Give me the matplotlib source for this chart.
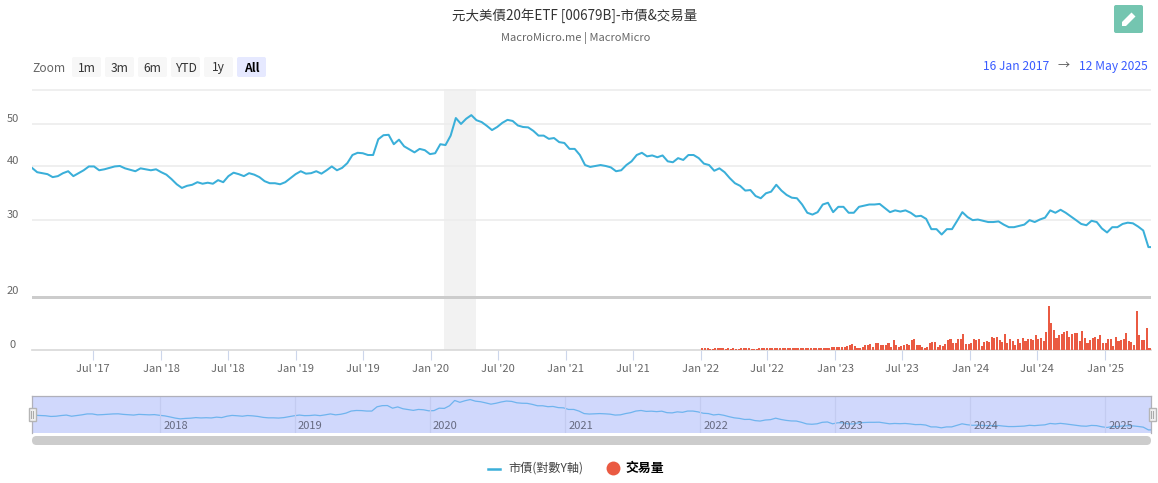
#! /usr/bin/env python
import numpy as np
import pandas as pd
import matplotlib
matplotlib.use('Agg')
import matplotlib.pyplot as plt
from matplotlib.patches import FancyBboxPatch, Rectangle, Polygon

plt.rcParams['font.family'] = ['Noto Sans CJK TC', 'DejaVu Sans']

W, H = 1158, 483

# 市價, one reading every two weeks from 16 Jan 2017
price = [
    39.6, 38.7, 38.5, 38.3, 37.7, 37.9, 38.5, 38.9, 37.9, 38.5, 39.1, 39.9, 39.9, 39.1, 39.3, 39.6, 39.9, 40.0,
    39.5, 39.2, 38.9, 39.5, 39.3, 39.1, 39.3, 38.7, 38.2, 37.3, 36.3, 35.6, 36.0, 36.2, 36.7, 36.4, 36.6, 36.4,
    37.1, 36.7, 37.9, 38.6, 38.3, 37.9, 38.5, 38.2, 37.7, 36.9, 36.5, 36.5, 36.3, 36.7, 37.5, 38.3, 38.9, 38.4,
    38.5, 38.9, 38.4, 39.1, 39.9, 39.1, 39.6, 40.6, 42.4, 42.9, 42.8, 42.4, 42.4, 46.1, 47.1, 47.2, 44.9, 46.0,
    44.4, 43.7, 43.0, 43.8, 43.5, 42.6, 42.8, 44.9, 44.7, 47.0, 51.6, 50.0, 51.4, 52.4, 51.0, 50.5, 49.5, 48.4,
    49.2, 50.3, 51.1, 50.8, 49.6, 49.2, 49.1, 48.2, 47.0, 47.0, 46.2, 46.4, 45.4, 45.2, 43.8, 43.8, 42.4, 40.2,
    39.8, 40.0, 40.2, 40.0, 39.7, 38.9, 39.1, 40.2, 41.0, 42.4, 42.9, 42.1, 42.3, 41.9, 42.3, 41.0, 40.8, 41.7,
    41.3, 42.4, 42.4, 41.7, 40.5, 40.2, 39.0, 39.5, 38.7, 37.5, 36.5, 36.0, 35.1, 35.2, 34.1, 33.7, 34.6, 34.9,
    36.2, 35.1, 34.3, 33.8, 33.7, 32.6, 31.2, 30.9, 31.3, 32.6, 32.9, 31.3, 32.2, 32.2, 31.2, 31.2, 32.2, 32.4,
    32.6, 32.6, 32.7, 32.0, 31.3, 31.6, 31.4, 31.6, 31.2, 30.6, 30.7, 30.2, 28.6, 28.6, 27.8, 28.6, 28.6, 29.9,
    31.3, 30.5, 30.0, 30.1, 29.9, 29.7, 29.7, 29.8, 29.3, 28.9, 28.9, 29.1, 29.3, 30.0, 29.7, 30.1, 30.4, 31.6,
    31.2, 31.7, 31.2, 30.6, 30.0, 29.4, 29.2, 29.9, 29.7, 28.7, 28.1, 28.9, 28.9, 29.4, 29.6, 29.5, 29.0, 28.4,
    26.0, 26.0,
]

# 交易量, weekly from Jan 2022 (scale not labelled, relative heights only)
volume = [
    3, 3, 3, 2, 2, 3, 4, 5, 3, 1, 3, 1, 3, 1, 1, 3, 3, 3, 3, 2, 1, 1, 3, 3, 3, 3,
    3, 3, 3, 3, 3, 3, 3, 3, 3, 3, 3, 3, 3, 3, 3, 3, 3, 3, 3, 4, 4, 5, 5, 5, 6, 6,
    7, 8, 7, 6, 10, 14, 16, 10, 5, 4, 8, 12, 13, 15, 6, 18, 20, 13, 13, 13, 18, 8, 27, 13, 6, 10,
    12, 15, 12, 28, 30, 13, 13, 7, 5, 8, 20, 22, 22, 8, 12, 10, 16, 28, 30, 20, 18, 32, 30, 46, 16, 16,
    18, 30, 28, 30, 10, 22, 25, 22, 38, 35, 38, 28, 22, 45, 20, 32, 25, 14, 30, 20, 35, 25, 30, 30, 28, 42,
    32, 35, 25, 52, 129, 80, 58, 35, 42, 45, 52, 55, 38, 45, 50, 48, 25, 55, 35, 18, 27, 35, 38, 30, 42, 20,
    20, 30, 30, 10, 37, 25, 27, 32, 50, 25, 22, 12, 115, 43, 28, 28, 65, 5,
]

price_dates = pd.date_range('2017-01-16', periods=len(price), freq='14D')
volume_dates = pd.date_range('2022-01-06', periods=len(volume), freq='7D')

shade_start, shade_end = pd.Timestamp('2020-02-05'), pd.Timestamp('2020-05-02')
x_start, x_end = pd.Timestamp('2017-01-16'), pd.Timestamp('2025-05-05')
nav_start = pd.Timestamp('2017-01-21')

y_ticks = [20, 30, 40, 50, 60]
date_ticks = ['2017-07-01', '2018-01-01', '2018-07-01', '2019-01-01', '2019-07-01', '2020-01-01',
              '2020-07-01', '2021-01-01', '2021-07-01', '2022-01-01', '2022-07-01', '2023-01-01',
              '2023-07-01', '2024-01-01', '2024-07-01', '2025-01-01']
date_labels = ["Jul '17", "Jan '18", "Jul '18", "Jan '19", "Jul '19", "Jan '20", "Jul '20", "Jan '21",
               "Jul '21", "Jan '22", "Jul '22", "Jan '23", "Jul '23", "Jan '24", "Jul '24", "Jan '25"]
years = [2018, 2019, 2020, 2021, 2022, 2023, 2024, 2025]
zoom_buttons = ['1m', '3m', '6m', 'YTD', '1y', 'All']

BLUE = '#3aafd9'
RED = '#ea5a42'
TXT = '#666666'


def px_axes(fig, left, top, right, bottom, **kw):
    return fig.add_axes([left / W, 1 - bottom / H, (right - left) / W, (bottom - top) / H], **kw)


def main():
    fig = plt.figure(figsize=(W / 100, H / 100), dpi=100)

    # price panel
    ax = px_axes(fig, 32, 89, 1151, 296.5)
    ax.set_yscale('log')
    ax.set_ylim(20, 60.2)
    ax.set_xlim(x_start, x_end)
    ax.axvspan(shade_start, shade_end, color='#f2f2f2', lw=0, zorder=0)
    ax.plot(price_dates, price, color=BLUE, lw=1.45, zorder=3)
    ax.set_yticks(y_ticks)
    ax.set_yticks([], minor=True)
    ax.set_yticklabels([])
    ax.set_xticks([])
    ax.tick_params(axis='y', length=0)
    ax.grid(axis='y', color='#ececec', lw=1.2)
    ax.set_axisbelow(True)
    for s in ax.spines.values():
        s.set_visible(False)

    # volume panel
    ax2 = px_axes(fig, 32, 298, 1151, 349.5)
    ax2.set_xlim(x_start, x_end)
    ax2.set_ylim(0, 154)
    ax2.axvspan(shade_start, shade_end, color='#f2f2f2', lw=0, zorder=0)
    ax2.bar(volume_dates, volume, width=5.6, color=RED, lw=0, zorder=3)
    ax2.set_yticks([])
    ax2.set_xticks(pd.to_datetime(date_ticks))
    ax2.set_xticklabels(date_labels, fontsize=8, color=TXT)
    ax2.tick_params(axis='x', length=7.5, width=0.8, color='#ccd6eb', pad=3)
    for k in ['top', 'left', 'right']:
        ax2.spines[k].set_visible(False)
    ax2.spines['bottom'].set_color('#d8d8d8')
    ax2.spines['bottom'].set_linewidth(1.2)

    # navigator
    nav = px_axes(fig, 32, 396, 1151, 433)
    nav.set_xlim(nav_start, x_end)
    nav.set_ylim(23.3, 55.5)
    nav.set_facecolor('#d0d8fc')
    nav.plot(price_dates, price, color='#6fb4ee', lw=0.9)
    nav.set_xticks([])
    nav.set_yticks([])
    for yr in years:
        d = pd.Timestamp(f'{yr}-01-01')
        nav.axvline(d, color='#c3cbf0', lw=0.9)
        nav.annotate(str(yr), (d, 0), xycoords=('data', 'axes fraction'), xytext=(2.5, 3),
                     textcoords='offset points', fontsize=8, color='#666a80', zorder=4)
    for k in ['bottom', 'right', 'left', 'top']:
        nav.spines[k].set_visible(k != 'bottom')
        nav.spines[k].set_color('#b0b0ba')
        nav.spines[k].set_linewidth(0.9)

    # everything else sits on one overlay in pixel coordinates
    ui = fig.add_axes([0, 0, 1, 1], zorder=10)
    ui.set_xlim(0, W)
    ui.set_ylim(H, 0)
    ui.axis('off')
    ui.patch.set_alpha(0)

    ui.text(574.5, 16, '元大美債20年ETF [00679B]-市債&交易量', ha='center', va='center', fontsize=9.7, color='#333333')
    ui.text(575.5, 38.5, 'MacroMicro.me | MacroMicro', ha='center', va='center', fontsize=8, color='#666666')

    # y labels sit above their gridlines
    for val, ypx in [(50, 118.5), (40, 160.5), (30, 214.5), (20, 291.5), (0, 344.5)]:
        ui.text(13, ypx, str(val), ha='center', va='center', fontsize=8, color=TXT)

    ui.add_patch(Rectangle((32, 295.5), 1119, 3, color='#cccccc', lw=0))

    # edit button
    ui.add_patch(FancyBboxPatch((1116, 7), 25, 24, boxstyle='round,pad=2,rounding_size=2', fc='#74c5b0', ec='none'))
    ui.add_patch(Polygon([(1122, 22), (1131.5, 12.5), (1135.5, 16.5), (1126, 26), (1122, 26)], fc='white', ec='none'))

    # range selector
    ui.text(48.5, 71.5, 'Zoom', ha='center', va='baseline', fontsize=8.7, color='#666666')
    for i, lab in enumerate(zoom_buttons):
        x0 = 72 + 33 * i
        sel = lab == 'All'
        ui.add_patch(FancyBboxPatch((x0 + 1, 58), 27, 18, boxstyle='round,pad=1,rounding_size=2',
                                    fc='#e6e9ff' if sel else '#f7f7f7', ec='none'))
        ui.text(x0 + 14.5, 71.5, lab, ha='center', va='baseline', fontsize=8.7,
                color='black' if sel else '#333333', fontweight='bold' if sel else 'normal')

    ui.text(1016.5, 70, '16 Jan 2017', ha='center', va='baseline', fontsize=8.7, color='#3a5cff')
    ui.text(1063.5, 65.5, '→', ha='center', va='center', fontsize=8.7, color='#555555')
    ui.text(1113, 70, '12 May 2025', ha='center', va='baseline', fontsize=8.7, color='#3a5cff')

    # navigator handles and scrollbar
    for xc in [32, 1152]:
        ui.add_patch(Rectangle((xc - 3.5, 408), 7, 13, fc='#f2f2f2', ec='#b5b5b5', lw=1))
        ui.plot([xc - 1, xc - 1], [411, 418], color='#aaaaaa', lw=0.8)
        ui.plot([xc + 1, xc + 1], [411, 418], color='#aaaaaa', lw=0.8)
    ui.add_patch(FancyBboxPatch((32, 436), 1119, 9, boxstyle='round,pad=0,rounding_size=4.5',
                                fc='#cccccc', ec='none', mutation_aspect=1))

    # legend
    ui.plot([488, 500], [468.5, 468.5], color=BLUE, lw=1.8)
    ui.text(508, 468, '市債(對數Y軸)', ha='left', va='center', fontsize=8.7, color='#444444')
    ui.scatter([613], [468], s=100, color=RED, lw=0)
    ui.text(625, 468, '交易量', ha='left', va='center', fontsize=9.3, color='black', fontweight='bold')

    fig.savefig('out.png', dpi=100)


if __name__ == "__main__":
    main()
